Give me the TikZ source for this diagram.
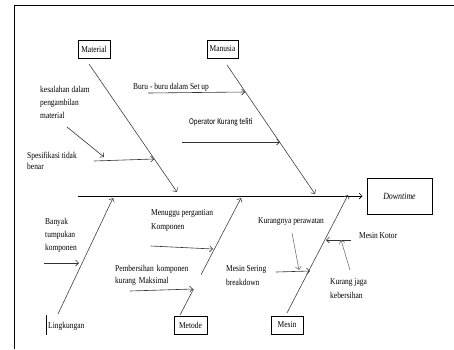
\documentclass[tikz,border=0pt]{standalone}
\usepackage{fontspec}
\setmainfont{Liberation Serif}[FakeStretch=0.83]
\newfontfamily\carlito{Carlito}[FakeStretch=0.8]
\usetikzlibrary{arrows.meta}
\tikzset{>={Straight Barb[length=3pt,width=6pt]},
lbl/.style={inner sep=0pt,align=left,anchor=north west,font=\fontsize{9}{13}\selectfont},
one/.style={lbl,anchor=west},
cat/.style={draw,line width=1pt,inner sep=2pt,minimum height=18pt,font=\fontsize{9}{10}\selectfont},
spine/.style={draw=black,line width=0.7pt,->,shorten >=4pt},
bone/.style={draw=black!75,line width=0.6pt,->},
cs/.style={draw=black!80,line width=0.6pt,->},
}
\begin{document}
\begin{tikzpicture}[x=1pt,y=-1pt]
	\useasboundingbox (0,0) rectangle (454,349);
	\draw[line width=1pt] (14,349) -- (14,5) -- (454,5);

	% categories and effect
	\node[cat,minimum width=32pt] (material) at (94,49) {Material};
	\node[cat,minimum width=31pt] (manusia) at (222.5,49) {Manusia};
	\node[cat,minimum width=33pt] (metode) at (190.5,325) {Metode};
	\node[cat,minimum width=32pt] (mesin) at (287,325) {Mesin};
	\node[cat,minimum width=65pt,minimum height=36pt,font=\fontsize{9.5}{10}\selectfont\itshape]
		(downtime) at (399.5,196) {Downtime};

	% bone ends
	\coordinate (tail) at (78,196);
	\coordinate (mat0) at (89,64);   \coordinate (mat1) at (177,192);
	\coordinate (man0) at (227,65);  \coordinate (man1) at (315,194);
	\coordinate (lin0) at (58,314);  \coordinate (lin1) at (113,198);
	\coordinate (met0) at (180,315); \coordinate (met1) at (241,198);
	\coordinate (mes0) at (287,313); \coordinate (mes1) at (348,195);

	\path
	(tail) edge[spine] (downtime.west)
	(mat0) edge[bone] (mat1)
	(man0) edge[bone] (man1)
	(lin0) edge[bone] (lin1)
	(met0) edge[bone] (met1)
	(mes0) edge[bone] (mes1)
	;

	% causes
	\node[one] (buru) at (133,87) {Buru - buru dalam Set up};
	\node[one,font=\fontsize{9}{10}\carlito] (operator) at (189,122) {Operator Kurang teliti};
	\node[lbl] (kesalahan) at (40,86) {kesalahan dalam\\pengambilan\\material};
	\node[lbl,font=\fontsize{9}{11}\selectfont] (spesifikasi) at (27,152) {Spesifikasi tidak\\benar};
	\node[lbl] (banyak) at (45,218) {Banyak\\tumpukan\\komponen};
	\node[one] (lingkungan) at (48,326) {Lingkungan};
	\node[lbl,font=\fontsize{9}{14}\selectfont] (menuggu) at (151,209) {Menuggu pergantian\\Komponen};
	\node[lbl,fill=white,inner sep=1pt,text width=85pt,minimum height=27pt,
		font=\fontsize{9}{12}\selectfont] (pembersihan) at (114,262)
		{Pembersihan komponen\\kurang Maksimal};
	\node[one] (kurangnya) at (258,222) {Kurangnya perawatan};
	\node[lbl,font=\fontsize{9}{14}\selectfont] (sering) at (226,265) {Mesin Sering\\breakdown};
	\node[one] (kotor) at (359,236) {Mesin Kotor};
	\node[lbl,font=\fontsize{9}{14}\selectfont] (jaga) at (330,278) {Kurang jaga\\kebersihan};
	\draw[line width=0.8pt] (46,315) -- (46,335);

	% cause arrows
	\coordinate (a1) at (148,93);  \coordinate (b1) at (245,92);
	\coordinate (a2) at (182,142); \coordinate (b2) at (280,142);
	\coordinate (a3) at (67,127);  \coordinate (b3) at (104,157);
	\coordinate (a4) at (94,161);  \coordinate (b4) at (154,159);
	\coordinate (a5) at (44,263);  \coordinate (b5) at (79,263);
	\coordinate (a6) at (151,246); \coordinate (b6) at (213,249);
	\coordinate (a7) at (130,291); \coordinate (b7) at (193,289);
	\coordinate (a8) at (292,233); \coordinate (b8) at (299,270);
	\coordinate (a9) at (276,272); \coordinate (b9) at (310,271);
	\coordinate (a10) at (351,240); \coordinate (b10) at (326,240);
	\coordinate (a11) at (350,270); \coordinate (b11) at (341,240);

	\path
	(a1) edge[cs] (b1)
	(a2) edge[cs] (b2)
	(a3) edge[cs] (b3)
	(a4) edge[cs] (b4)
	(a5) edge[cs] (b5)
	(a6) edge[cs] (b6)
	(a7) edge[cs] (b7)
	(a8) edge[cs,draw=black!55] (b8)
	(a9) edge[cs] (b9)
	(a10) edge[cs] (b10)
	(a11) edge[cs,draw=black!55] (b11)
	;
\end{tikzpicture}
\end{document}
